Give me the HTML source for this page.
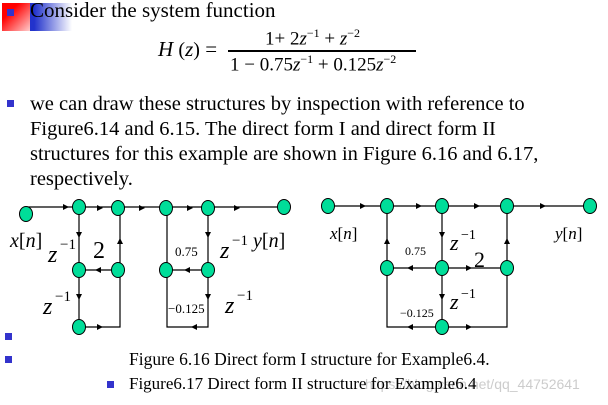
<!DOCTYPE html><html><head><style>
body{margin:0;width:608px;height:405px;background:#fff;position:relative;overflow:hidden;font-family:"Liberation Serif",serif;color:#000}
.t{position:absolute;white-space:nowrap}
.b{position:absolute;width:7px;height:7px;background:#3333cc}
</style></head><body>
<div style="position:absolute;left:2px;top:3px;width:28px;height:28px;background:linear-gradient(135deg,#f00 30%,#fcc 100%)"></div>
<div style="position:absolute;left:30px;top:3px;width:42px;height:28px;background:linear-gradient(90deg,#2233cc 10%,rgba(40,50,200,0) 100%)"></div>
<div class="b" style="left:7px;top:9px"></div>
<div class="t" style="left:30px;top:-2px;font-size:21px">Consider the system function</div>
<div class="t" style="left:158px;top:37px;font-size:21px"><i>H</i> <span style="font-size:20px">(</span><i>z</i><span style="font-size:20px">)</span> =</div>
<div class="t" style="left:265px;top:26px;font-size:19px">1+ 2<i>z</i><sup style="font-size:12px">−1</sup> + <i>z</i><sup style="font-size:12px">−2</sup></div>
<div style="position:absolute;left:228px;top:50px;width:188px;height:1.5px;background:#000"></div>
<div class="t" style="left:230px;top:52px;font-size:19px">1 − 0.75<i>z</i><sup style="font-size:12px">−1</sup> + 0.125<i>z</i><sup style="font-size:12px">−2</sup></div>
<div class="b" style="left:7px;top:100px"></div>
<div class="t" style="left:30px;top:92px;font-size:20.5px;line-height:25px">we can draw these structures by inspection with reference to<br>Figure6.14 and 6.15. The direct form I and direct form II<br>structures for this example are shown in Figure 6.16 and 6.17,<br>respectively.</div>
<svg width="608" height="405" style="position:absolute;left:0;top:0" font-family="Liberation Serif">
<g stroke="#000" stroke-width="1.2" fill="none">
<path d="M26,207H284"/>
<path d="M79,207V327H120V208"/><path d="M79,270H118"/>
<path d="M167,208V327H208V208"/><path d="M166,270H208"/>
<path d="M328,206H590"/>
<path d="M387,206V327H507V206"/><path d="M442,206V327"/><path d="M387,268H507"/>
</g>
<g fill="#000">
<path d="M63,204l6,3l-6,3z"/><path d="M97,205l6,3l-6,3z"/><path d="M139,205l6,3l-6,3z"/><path d="M187,205l6,3l-6,3z"/><path d="M234,205l6,3l-6,3z"/>
<path d="M76,232l3,6l3,-6z"/><path d="M76,294l3,6l3,-6z"/><path d="M117,244l3,-6l3,6z"/><path d="M101,267l-6,3l6,3z"/><path d="M97,324l6,3l-6,3z"/>
<path d="M205,232l3,6l3,-6z"/><path d="M205,294l3,6l3,-6z"/><path d="M190,267l-6,3l6,3z"/><path d="M197,324l-6,3l6,3z"/>
<path d="M360,203l6,3l-6,3z"/><path d="M416,203l6,3l-6,3z"/><path d="M474,203l6,3l-6,3z"/><path d="M540,203l6,3l-6,3z"/>
<path d="M439,232l3,6l3,-6z"/><path d="M439,294l3,6l3,-6z"/><path d="M384,244l3,-6l3,6z"/><path d="M504,244l3,-6l3,6z"/>
<path d="M413,265l-6,3l6,3z"/><path d="M466,265l6,3l-6,3z"/><path d="M413,324l-6,3l6,3z"/><path d="M466,324l6,3l-6,3z"/>
</g>
<g fill="#00dd99" stroke="#000" stroke-width="1">
<ellipse cx="26" cy="214" rx="6.5" ry="7.5"/><ellipse cx="79" cy="207" rx="6.5" ry="7.5"/><ellipse cx="118" cy="208" rx="6.5" ry="7.5"/><ellipse cx="166" cy="208" rx="6.5" ry="7.5"/><ellipse cx="208" cy="208" rx="6.5" ry="7.5"/><ellipse cx="284" cy="207" rx="6.5" ry="7.5"/>
<ellipse cx="79" cy="270" rx="6.5" ry="7.5"/><ellipse cx="118" cy="270" rx="6.5" ry="7.5"/><ellipse cx="166" cy="270" rx="6.5" ry="7.5"/><ellipse cx="208" cy="270" rx="6.5" ry="7.5"/><ellipse cx="79" cy="327" rx="6.5" ry="7.5"/>
<ellipse cx="328" cy="206" rx="6.5" ry="7.5"/><ellipse cx="387" cy="206" rx="6.5" ry="7.5"/><ellipse cx="442" cy="206" rx="6.5" ry="7.5"/><ellipse cx="507" cy="206" rx="6.5" ry="7.5"/><ellipse cx="590" cy="206" rx="6.5" ry="7.5"/>
<ellipse cx="387" cy="268" rx="6.5" ry="7.5"/><ellipse cx="442" cy="268" rx="6.5" ry="7.5"/><ellipse cx="507" cy="268" rx="6.5" ry="7.5"/><ellipse cx="442" cy="327" rx="6.5" ry="7.5"/>
</g>
<g font-size="20">
<text x="10" y="247"><tspan font-style="italic">x</tspan>[<tspan font-style="italic">n</tspan>]</text>
<text x="48" y="262" font-size="24" font-style="italic">z</text><text x="60" y="249" font-size="15">−1</text>
<text x="93" y="258" font-size="24">2</text>
<text x="43" y="314" font-size="24" font-style="italic">z</text><text x="55" y="301" font-size="15">−1</text>
<text x="175" y="256" font-size="13">0.75</text>
<text x="220" y="258" font-size="24" font-style="italic">z</text><text x="232" y="245" font-size="15">−1</text>
<text x="253" y="247"><tspan font-style="italic">y</tspan>[<tspan font-style="italic">n</tspan>]</text>
<text x="168" y="313" font-size="13">−0.125</text>
<text x="225" y="313" font-size="24" font-style="italic">z</text><text x="237" y="300" font-size="15">−1</text>
<text x="330" y="239" font-size="17"><tspan font-style="italic">x</tspan>[<tspan font-style="italic">n</tspan>]</text>
<text x="405" y="255" font-size="12">0.75</text>
<text x="450" y="250" font-size="22" font-style="italic">z</text><text x="461" y="239" font-size="14">−1</text>
<text x="474" y="267" font-size="22">2</text>
<text x="555" y="239" font-size="17"><tspan font-style="italic">y</tspan>[<tspan font-style="italic">n</tspan>]</text>
<text x="400" y="317" font-size="12">−0.125</text>
<text x="450" y="309" font-size="22" font-style="italic">z</text><text x="461" y="298" font-size="14">−1</text>
</g>
</svg>
<div class="b" style="left:5px;top:333px"></div>
<div class="b" style="left:5px;top:356px"></div>
<div class="t" style="left:129px;top:349px;font-size:17.5px">Figure 6.16 Direct form I structure for Example6.4.</div>
<div class="b" style="left:107px;top:381px"></div>
<div class="t" style="left:365px;top:376px;font-size:14px;color:#ccc;font-family:'Liberation Sans',sans-serif">https://blog.csdn.net/qq_44752641</div>
<div class="t" style="left:129px;top:374px;font-size:17px">Figure6.17 Direct form II structure for Example6.4</div>
</body></html>
